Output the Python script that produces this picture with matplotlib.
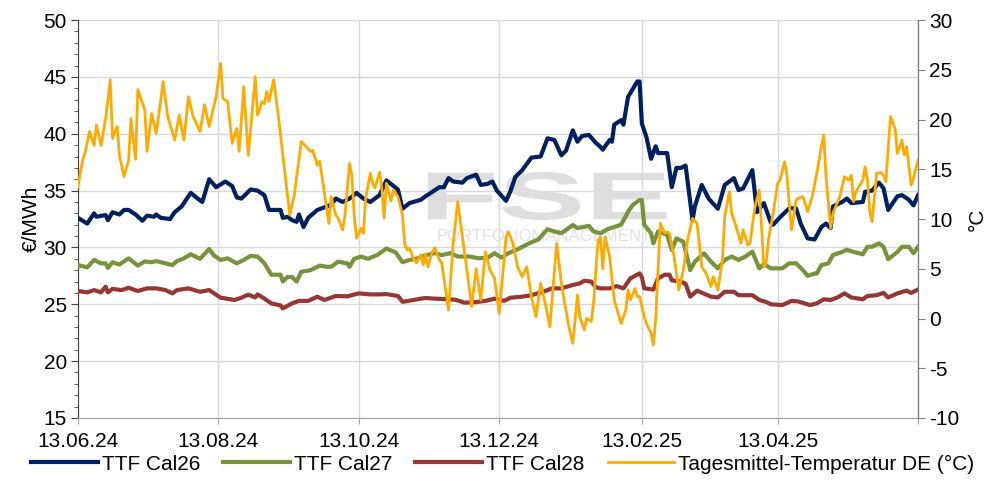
import datetime as dt

import matplotlib

matplotlib.use("Agg")
import matplotlib.dates as mdates
import matplotlib.pyplot as plt
from matplotlib.font_manager import FontProperties
from matplotlib.patches import PathPatch
from matplotlib.textpath import TextPath
from matplotlib.ticker import MultipleLocator
from matplotlib.transforms import Affine2D

START = dt.datetime(2024, 6, 13)

# day offsets from 13.06.24 and values
cal26_days = [0, 4, 7, 8, 12, 13, 15, 18, 20, 22, 25, 28, 30, 33, 34, 36, 40, 42, 45, 49, 52, 54, 57, 60,
              64, 67, 69, 71, 75, 78, 81, 83, 88, 89, 91, 93, 95, 96, 98, 100, 104, 108, 110, 112, 115,
              118, 121, 124, 127, 131, 134, 139, 141, 144, 149, 151, 154, 157, 159, 161, 163, 167, 169,
              173, 175, 178, 180, 182, 184, 186, 188, 190, 193, 197, 201, 204, 207, 210, 212, 215, 217,
              219, 222, 225, 227, 228, 231, 232, 233, 236, 237, 239, 243, 244, 245, 247, 249, 251, 252,
              256, 258, 260, 262, 264, 267, 268, 271, 274, 278, 281, 285, 287, 289, 293, 295, 298, 301,
              302, 306, 309, 312, 314, 317, 320, 323, 325, 327, 328, 332, 334, 336, 341, 342, 345, 348,
              350, 352, 356, 358, 361, 363, 365]
cal26 = [32.6, 32.1, 33.0, 32.7, 32.85, 32.4, 33.1, 32.9, 33.3, 33.3, 32.9, 32.35, 32.8, 32.7, 32.9, 32.6,
         32.5, 33.1, 33.6, 34.8, 34.3, 34.0, 36.0, 35.3, 35.8, 35.4, 34.4, 34.3, 35.1, 35.0, 34.6, 33.3,
         33.3, 32.6, 32.7, 32.4, 32.25, 32.9, 31.8, 32.6, 33.3, 33.6, 33.75, 34.3, 34.0, 34.3, 34.8, 34.3,
         34.0, 34.6, 35.9, 35.1, 33.4, 33.9, 34.2, 34.5, 34.9, 35.3, 35.3, 36.1, 35.8, 35.7, 36.1, 36.4,
         35.5, 35.6, 35.8, 35.0, 34.55, 34.1, 35.0, 36.2, 36.8, 37.9, 38.0, 39.6, 39.45, 38.1, 38.5, 40.3,
         39.3, 39.8, 39.9, 39.2, 38.85, 38.6, 39.45, 39.3, 40.8, 41.2, 40.8, 43.25, 44.6, 44.6, 40.9, 39.7,
         37.8, 38.9, 38.3, 38.3, 35.3, 37.0, 37.0, 37.2, 32.4, 33.6, 35.5, 34.3, 33.4, 35.5, 36.1, 35.05,
         35.2, 36.8, 33.1, 33.9, 32.2, 32.0, 32.85, 33.44, 33.44, 32.1, 30.8, 30.7, 31.8, 32.1, 31.7, 33.6,
         34.0, 34.3, 33.9, 34.0, 34.9, 35.0, 35.7, 35.2, 33.3, 34.5, 34.6, 34.2, 33.7, 34.6]

cal27_days = [0, 4, 7, 10, 12, 13, 15, 18, 22, 26, 29, 32, 34, 38, 41, 43, 46, 49, 53, 57, 59, 62, 65, 69,
              72, 75, 78, 81, 84, 88, 89, 91, 93, 95, 97, 101, 105, 108, 110, 113, 117, 118, 120, 123,
              126, 130, 134, 138, 141, 144, 147, 151, 155, 158, 162, 165, 170, 174, 178, 181, 184, 187,
              191, 196, 200, 204, 207, 210, 215, 217, 222, 224, 227, 230, 233, 236, 239, 241, 244, 245,
              246, 249, 250, 252, 256, 258, 260, 263, 265, 266, 268, 272, 275, 278, 281, 284, 287, 290,
              293, 296, 298, 301, 306, 309, 312, 315, 317, 320, 321, 323, 326, 328, 332, 334, 337, 341,
              343, 345, 348, 350, 352, 356, 358, 361, 363, 365]
cal27 = [28.45, 28.25, 28.9, 28.6, 28.6, 28.2, 28.7, 28.5, 29.04, 28.4, 28.77, 28.7, 28.8, 28.6, 28.45,
         28.8, 29.04, 29.4, 29.0, 29.86, 29.3, 28.9, 29.04, 28.6, 28.9, 29.25, 29.2, 28.6, 27.6, 27.6,
         27.0, 27.4, 27.4, 27.0, 27.86, 28.0, 28.4, 28.3, 28.3, 28.75, 28.6, 28.3, 29.0, 29.2, 29.0,
         29.33, 29.9, 29.57, 28.7, 28.9, 29.0, 29.3, 29.5, 29.33, 29.5, 29.2, 29.2, 29.05, 29.1, 29.5,
         29.1, 29.5, 29.83, 30.36, 30.7, 31.6, 31.4, 31.25, 31.97, 31.7, 31.9, 31.4, 31.24, 31.6, 31.8,
         32.0, 33.14, 33.73, 34.17, 34.17, 32.0, 31.24, 30.36, 31.4, 31.1, 29.77, 30.8, 30.5, 28.9, 28.0,
         28.75, 29.48, 28.75, 28.16, 28.9, 29.2, 28.9, 29.2, 29.63, 28.16, 28.55, 28.16, 28.16, 28.6,
         28.6, 28.0, 27.5, 27.7, 27.7, 28.45, 28.6, 29.33, 29.6, 29.8, 29.6, 29.4, 30.06, 30.06, 30.36,
         30.06, 28.96, 29.6, 30.06, 30.06, 29.5, 30.06]

cal28_days = [0, 4, 7, 10, 12, 13, 15, 19, 22, 26, 30, 34, 38, 41, 43, 48, 53, 57, 62, 68, 71, 74, 77, 78,
              81, 84, 88, 89, 93, 96, 100, 104, 107, 112, 117, 122, 127, 131, 134, 139, 141, 146, 149,
              151, 155, 160, 164, 168, 173, 177, 181, 185, 188, 193, 197, 202, 206, 210, 215, 218, 220,
              223, 225, 227, 231, 234, 237, 240, 244, 245, 246, 250, 252, 255, 257, 258, 262, 264, 266,
              269, 275, 278, 281, 285, 287, 293, 296, 299, 301, 306, 310, 313, 318, 321, 324, 327, 330,
              333, 336, 341, 343, 347, 350, 352, 356, 360, 362, 365]
cal28 = [26.17, 26.05, 26.25, 26.05, 26.55, 26.05, 26.35, 26.25, 26.45, 26.17, 26.4, 26.4, 26.25, 25.96,
         26.25, 26.4, 26.1, 26.25, 25.58, 25.38, 25.58, 25.85, 25.6, 25.87, 25.5, 25.08, 24.9, 24.64,
         25.08, 25.3, 25.3, 25.67, 25.38, 25.73, 25.7, 25.96, 25.87, 25.87, 25.9, 25.73, 25.22, 25.38,
         25.5, 25.55, 25.5, 25.45, 25.4, 25.14, 25.2, 25.3, 25.5, 25.3, 25.58, 25.67, 25.8, 26.1, 26.4,
         26.4, 26.7, 26.84, 27.07, 27.0, 26.5, 26.4, 26.4, 26.6, 26.4, 27.28, 27.72, 27.4, 26.4, 26.3,
         27.28, 27.6, 27.6, 27.1, 27.0, 26.8, 25.67, 26.2, 25.67, 25.6, 26.1, 26.1, 25.8, 25.8, 25.38,
         25.2, 25.0, 24.93, 25.3, 25.25, 24.93, 25.08, 25.44, 25.38, 25.6, 25.96, 25.6, 25.44, 25.73,
         25.8, 26.0, 25.6, 25.96, 26.2, 26.0, 26.3]

temp_days = [0, 2, 3, 5, 7, 8, 10, 12, 14, 15, 17, 18, 20, 22, 23, 25, 26, 29, 30, 32, 34, 37, 39, 42, 44,
             46, 48, 50, 53, 55, 57, 60, 62, 63, 65, 67, 69, 70, 72, 74, 77, 78, 80, 81, 82, 83, 85, 87,
             89, 91, 92, 94, 97, 99, 101, 102, 104, 105, 107, 109, 110, 112, 113, 115, 116, 118, 119, 120,
             121, 123, 124, 125, 127, 128, 129, 131, 132, 133, 134, 136, 137, 139, 141, 142, 143, 144, 146,
             147, 149, 150, 151, 152, 154, 155, 157, 158, 161, 163, 165, 167, 169, 171, 173, 175, 177, 179,
             181, 183, 186, 187, 189, 191, 193, 195, 197, 199, 201, 203, 205, 208, 210, 212, 213, 215, 217,
             218, 220, 221, 223, 224, 225, 226, 227, 228, 229, 231, 233, 236, 238, 239, 240, 242, 243, 244,
             246, 247, 249, 250, 251, 252, 253, 255, 256, 257, 259, 261, 263, 265, 267, 269, 271, 273, 275,
             276, 278, 280, 281, 283, 284, 286, 288, 289, 291, 292, 294, 296, 297, 298, 299, 300, 302, 304,
             305, 307, 308, 310, 312, 313, 315, 317, 319, 321, 323, 324, 325, 327, 328, 331, 333, 335, 336,
             337, 338, 341, 342, 343, 344, 345, 347, 349, 350, 351, 353, 355, 356, 358, 359, 360, 362, 363,
             365]
temp = [13.25, 15.9, 16.6, 18.8, 17.4, 19.45, 17.4, 20.1, 24.0, 18.1, 19.3, 16.4, 14.25, 15.9, 20.1, 16.0,
        23.0, 21.0, 16.8, 20.6, 18.6, 23.8, 20.3, 17.95, 20.45, 17.95, 22.3, 20.3, 18.8, 21.5, 19.3, 22.3,
        25.65, 22.1, 21.8, 17.6, 19.1, 16.8, 23.3, 16.4, 24.3, 20.45, 21.8, 21.6, 22.8, 21.8, 24.0, 20.45,
        16.4, 12.4, 10.4, 12.4, 17.8, 17.3, 16.8, 16.9, 15.4, 15.8, 12.75, 9.56, 12.25, 10.4, 10.1, 8.9,
        10.4, 15.6, 14.4, 10.4, 8.06, 9.06, 8.56, 12.1, 14.6, 13.6, 13.1, 14.7, 13.1, 10.1, 13.6, 11.8,
        12.9, 12.25, 10.4, 7.4, 6.9, 7.06, 5.9, 5.6, 6.4, 5.4, 6.5, 5.2, 6.7, 7.1, 5.9, 5.6, 0.85, 7.55,
        11.74, 8.2, 4.87, 1.2, 5.0, 1.86, 6.7, 4.87, 4.04, 0.5, 8.2, 8.7, 7.55, 5.2, 4.2, 5.2, 2.2, 0.18,
        3.54, 1.53, -0.83, 7.55, 3.54, 0.85, -0.5, -2.5, 2.36, 0.18, -1.16, 0.0, -0.3, 1.53, 4.87, 7.9,
        8.2, 5.0, 8.2, 6.2, 1.86, -0.5, 0.85, 2.86, 1.86, 3.0, 2.2, 2.2, 0.18, -0.5, -1.5, -2.66, 0.0,
        4.87, 9.56, 8.56, 8.7, 8.56, 6.2, 2.86, 4.87, 8.06, 10.07, 9.56, 5.2, 4.5, 3.2, 4.2, 2.86, 5.9,
        10.23, 12.75, 10.57, 9.2, 7.55, 8.9, 7.4, 7.55, 11.07, 12.9, 9.2, 5.2, 5.6, 7.9, 10.57, 13.6,
        13.9, 15.76, 14.42, 8.9, 11.9, 12.1, 12.25, 10.74, 12.25, 14.6, 17.27, 18.44, 14.25, 9.06, 10.57,
        12.25, 14.25, 13.9, 14.4, 11.74, 12.75, 13.9, 15.26, 13.9, 10.74, 9.73, 14.6, 14.67, 14.4, 13.75,
        20.3, 19.1, 16.6, 17.94, 16.43, 17.27, 13.4, 14.1, 15.93]

tick_dates = ["13.06.24", "13.08.24", "13.10.24", "13.12.24", "13.02.25", "13.04.25"]


def to_dates(days):
    return [START + dt.timedelta(days=d) for d in days]


plt.rcParams.update({
    "font.family": "Liberation Sans",
    "font.size": 15,
    "axes.unicode_minus": False,
})

fig = plt.figure(figsize=(9.86, 4.9), dpi=100)
ax = fig.add_axes([0.0791, 0.147, 0.852, 0.812])
ax2 = ax.twinx()

ax.plot(to_dates(cal26_days), cal26, color="#002060", lw=3, label="TTF Cal26", zorder=3)
ax.plot(to_dates(cal27_days), cal27, color="#77933C", lw=3, label="TTF Cal27", zorder=3)
ax.plot(to_dates(cal28_days), cal28, color="#953735", lw=3, label="TTF Cal28", zorder=3)
ax2.plot(to_dates(temp_days), temp, color="#FFAA00", lw=2, label="Tagesmittel-Temperatur DE (°C)")

# faint watermark, wide "FSE" logo stretched into a box given in figure fractions
logo = TextPath((0, 0), "FSE", size=1, prop=FontProperties(family="Liberation Sans", weight="bold"))
ext = logo.get_extents()
x0, y0, w, h = 0.434, 0.551, 0.242, 0.098
logo_tf = Affine2D().translate(-ext.x0, -ext.y0).scale(w / ext.width, h / ext.height).translate(x0, y0)
ax.add_patch(PathPatch(logo, transform=logo_tf + fig.transFigure, facecolor="#DEDEDE",
                       edgecolor="none", zorder=1))
ax.text(0.555, 0.455, "PORTFOLIOMANAGEMENT", transform=ax.transAxes, ha="center", va="center",
        fontsize=12, color="#E2E2E2", zorder=1)

ax.set_xlim(START, START + dt.timedelta(days=365))
ax.set_ylim(15, 50)
ax2.set_ylim(-10, 30)
ax.yaxis.set_major_locator(MultipleLocator(5))
ax.yaxis.set_minor_locator(MultipleLocator(1))
ax2.yaxis.set_major_locator(MultipleLocator(5))

ticks = [dt.datetime.strptime(t, "%d.%m.%y") for t in tick_dates]
ax.set_xticks(ticks + [START + dt.timedelta(days=365)])
ax.xaxis.set_major_formatter(mdates.DateFormatter("%d.%m.%y"))
ax.set_xticklabels(tick_dates + [""])

ax.grid(True, which="major", color="#D9D9D9", lw=1)
ax.set_axisbelow(True)
for a in (ax, ax2):
    a.spines["top"].set_visible(False)
ax.spines["left"].set_color("#404040")
ax.spines["bottom"].set_color("#A6A6A6")
ax2.spines["right"].set_color("#808080")
ax2.spines["left"].set_visible(False)
ax2.spines["bottom"].set_visible(False)
ax.tick_params(axis="y", which="major", length=5, color="#404040", pad=3)
ax.tick_params(axis="y", which="minor", length=3, color="#404040")
ax.tick_params(axis="x", length=4, color="#A6A6A6", pad=6)
ax2.tick_params(axis="y", length=5, color="#808080", pad=3)

ax.set_ylabel("€/MWh", labelpad=2)
ax2.set_ylabel("°C", rotation=90, labelpad=6)

handles = ax.get_lines()[:3] + ax2.get_lines()
fig.legend(handles, [h.get_label() for h in handles], loc="lower center", bbox_to_anchor=(0.51, -0.005),
           ncol=4, frameon=False, handlelength=3.2, columnspacing=1.1, handletextpad=0.2)

fig.savefig("out.png", dpi=100)
